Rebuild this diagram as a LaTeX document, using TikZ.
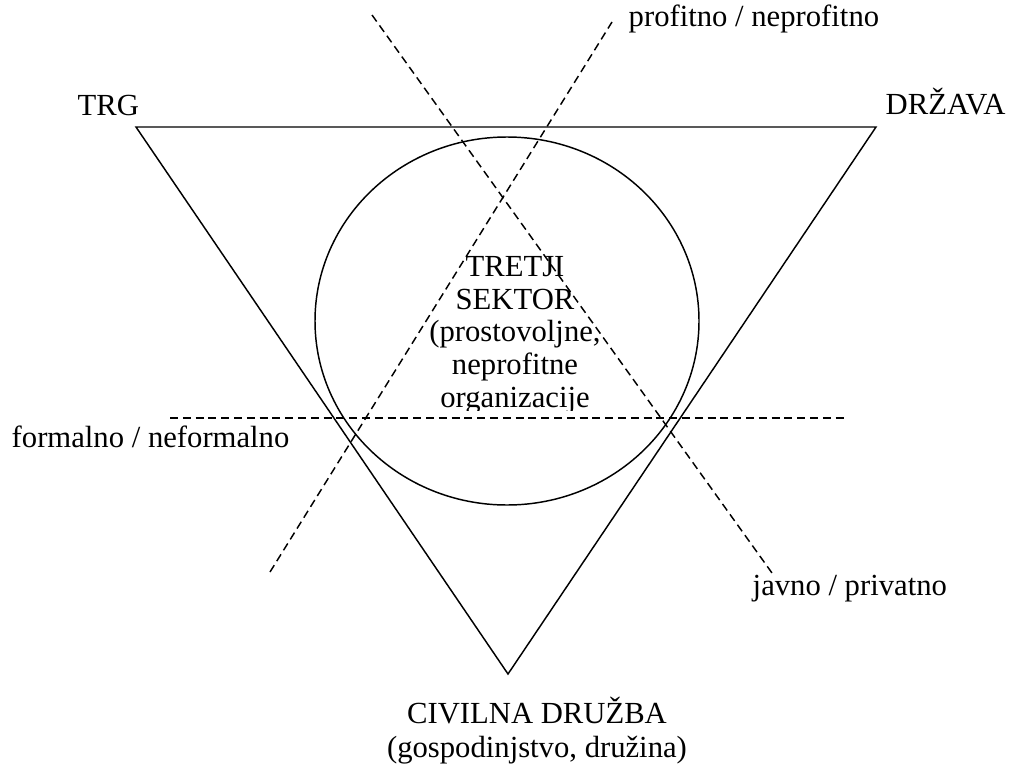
\documentclass[tikz,border=0pt]{standalone}
\usepackage{fontspec}
\setmainfont{Liberation Serif}
\begin{document}
\begin{tikzpicture}[x=0.75pt,y=-0.75pt,line width=1.1pt,
   lbl/.style={font=\fontsize{23}{24.4}\selectfont,inner sep=0pt},
   cut/.style={dash pattern=on 6pt off 3.6pt}]
   \useasboundingbox (0,0) rectangle (1016,767);
   % triangle and circle
   \coordinate (trg) at (136,127);
   \coordinate (drz) at (876,127);
   \coordinate (civ) at (508,674);
   \draw (trg) -- (drz) -- (civ) -- cycle;
   \draw (507,321) ellipse [x radius=192, y radius=184];
   % dashed dividing lines
   \coordinate (pf1) at (270,572);
   \coordinate (pf2) at (612,22);
   \coordinate (jp1) at (372,15);
   \coordinate (jp2) at (772,573);
   \coordinate (fn1) at (170,418);
   \coordinate (fn2) at (845,418);
   \draw[cut] (pf1) -- (pf2);
   \draw[cut] (jp1) -- (jp2);
   \draw[cut] (fn1) -- (fn2);
   % labels
   \node[lbl,anchor=base west] (ltrg) at (77,115) {TRG};
   \node[lbl,anchor=base west] (ldrz) at (885,114) {DRŽAVA};
   \node[lbl,anchor=base west] (lpf) at (628,27) {profitno / neprofitno};
   \node[lbl,anchor=base west] (ljp) at (752,595) {javno / privatno};
   \node[lbl,anchor=base west] (lfn) at (11,447) {formalno / neformalno};
   \node[lbl,anchor=base,align=center,font=\fontsize{23}{25}\selectfont] (lciv) at (537,757)
      {CIVILNA DRUŽBA\\(gospodinjstvo, družina)};
   \begin{scope}
      \clip (300,130) rectangle (740,410);
      \node[lbl,anchor=base,align=center] (sek) at (515,407)
         {TRETJI\\SEKTOR\\(prostovoljne,\\neprofitne\\organizacije};
   \end{scope}
\end{tikzpicture}
\end{document}
